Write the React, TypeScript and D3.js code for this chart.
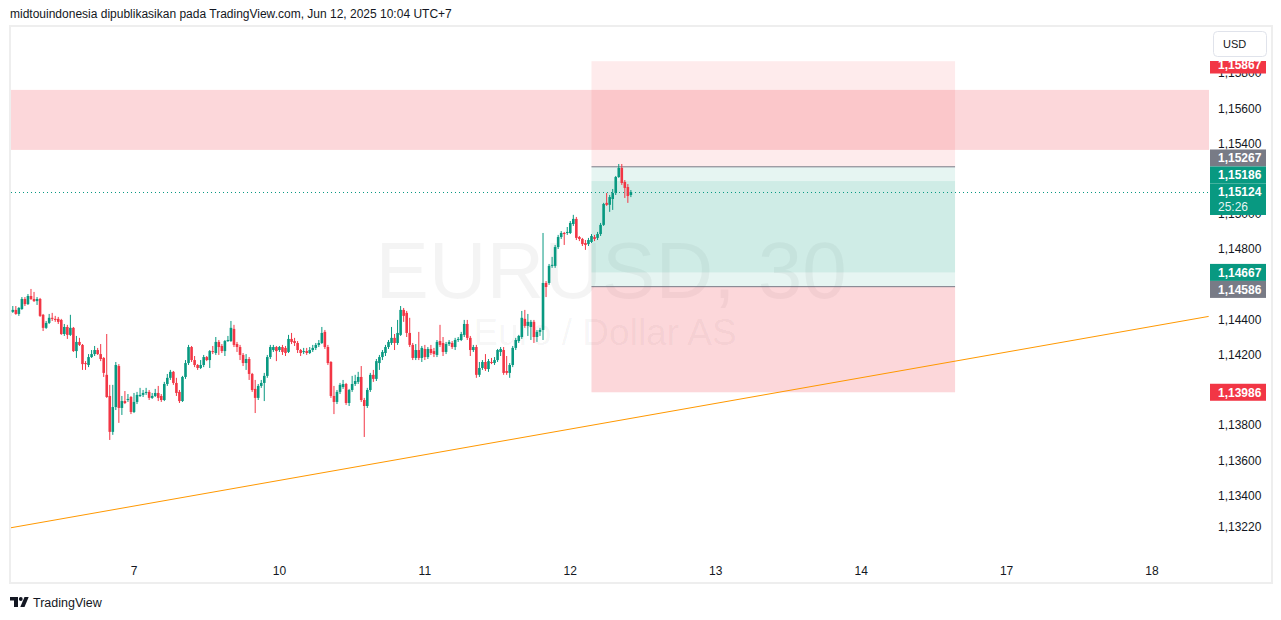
import React from 'react';
import * as d3 from 'd3';

// ---- data (EURUSD, 30m) ----
const opens = [1.14420,1.14443,1.14454,1.14431,1.14459,1.14516,1.14487,1.14533,1.14516,1.14504,
1.14516,1.14426,1.14352,1.14380,1.14409,1.14403,1.14403,1.14397,1.14317,1.14357,
1.14312,1.14352,1.14220,1.14272,1.14255,1.14152,1.14141,1.14186,1.14203,1.14226,
1.14203,1.14181,1.14085,1.13965,1.13761,1.13902,1.14135,1.13897,1.13936,1.13942,
1.13959,1.13874,1.13931,1.13965,1.13971,1.13982,1.13988,1.13954,1.13965,1.13982,
1.13965,1.13942,1.14033,1.14068,1.14102,1.14039,1.13988,1.13936,1.14073,1.14152,
1.14243,1.14169,1.14141,1.14124,1.14141,1.14186,1.14169,1.14220,1.14209,1.14272,
1.14249,1.14220,1.14277,1.14277,1.14346,1.14260,1.14243,1.14198,1.14152,1.14175,
1.14090,1.14005,1.13954,1.14022,1.14039,1.14079,1.14186,1.14226,1.14243,1.14226,
1.14243,1.14238,1.14215,1.14289,1.14277,1.14266,1.14226,1.14215,1.14220,1.14209,
1.14226,1.14238,1.14255,1.14266,1.14329,1.14243,1.14158,1.13965,1.13931,1.13988,
1.14016,1.14033,1.13925,1.13999,1.14033,1.14045,1.14073,1.13942,1.13908,1.13999,
1.14085,1.14062,1.14152,1.14186,1.14209,1.14243,1.14266,1.14295,1.14266,1.14312,
1.14454,1.14437,1.14323,1.14255,1.14181,1.14226,1.14181,1.14232,1.14186,1.14232,
1.14220,1.14198,1.14277,1.14266,1.14215,1.14260,1.14266,1.14243,1.14283,1.14283,
1.14312,1.14374,1.14295,1.14226,1.14243,1.14085,1.14124,1.14158,1.14118,1.14158,
1.14152,1.14169,1.14215,1.14226,1.14107,1.14096,1.14141,1.14238,1.14277,1.14300,
1.14403,1.14363,1.14357,1.14386,1.14300,1.14329,1.14340,1.14607,1.14607,1.14704,
1.14704,1.14811,1.14868,1.14891,1.14891,1.14891,1.14942,1.14971,1.14868,1.14857,
1.14834,1.14828,1.14840,1.14868,1.14863,1.14885,1.14937,1.15062,1.15051,1.15084,
1.15118,1.15209,1.15261,1.15181,1.15152,1.15107];

const highs = [1.14454,1.14476,1.14476,1.14470,1.14527,1.14527,1.14544,1.14573,1.14556,1.14527,
1.14522,1.14431,1.14391,1.14431,1.14437,1.14420,1.14414,1.14403,1.14374,1.14369,
1.14426,1.14357,1.14306,1.14295,1.14260,1.14163,1.14203,1.14226,1.14249,1.14238,
1.14260,1.14186,1.14317,1.14028,1.14028,1.14158,1.14146,1.13965,1.13993,1.13976,
1.13965,1.13982,1.13988,1.14011,1.13999,1.14011,1.13999,1.13982,1.14005,1.14022,
1.13976,1.14045,1.14090,1.14113,1.14107,1.14068,1.13999,1.14079,1.14169,1.14255,
1.14249,1.14192,1.14146,1.14169,1.14198,1.14192,1.14226,1.14249,1.14300,1.14283,
1.14260,1.14283,1.14306,1.14391,1.14369,1.14272,1.14255,1.14209,1.14203,1.14186,
1.14096,1.14056,1.14033,1.14056,1.14096,1.14198,1.14255,1.14255,1.14249,1.14249,
1.14255,1.14249,1.14312,1.14323,1.14295,1.14277,1.14232,1.14238,1.14238,1.14243,
1.14255,1.14266,1.14283,1.14357,1.14340,1.14255,1.14163,1.14022,1.13999,1.14039,
1.14056,1.14039,1.14005,1.14079,1.14085,1.14102,1.14135,1.13954,1.14011,1.14096,
1.14113,1.14175,1.14198,1.14226,1.14255,1.14283,1.14357,1.14317,1.14397,1.14476,
1.14465,1.14448,1.14409,1.14266,1.14260,1.14329,1.14249,1.14255,1.14243,1.14255,
1.14238,1.14283,1.14369,1.14300,1.14272,1.14283,1.14277,1.14295,1.14300,1.14329,
1.14397,1.14397,1.14306,1.14255,1.14255,1.14158,1.14169,1.14203,1.14175,1.14181,
1.14186,1.14232,1.14243,1.14243,1.14192,1.14152,1.14249,1.14295,1.14312,1.14448,
1.14454,1.14431,1.14397,1.14397,1.14340,1.14352,1.14891,1.14618,1.14715,1.14755,
1.14823,1.14880,1.14902,1.14897,1.14925,1.14959,1.14994,1.14982,1.14874,1.14863,
1.14851,1.14863,1.14885,1.14880,1.14897,1.14948,1.15062,1.15118,1.15107,1.15141,
1.15215,1.15283,1.15283,1.15192,1.15169,1.15135];

const lows = [1.14414,1.14437,1.14426,1.14420,1.14454,1.14476,1.14482,1.14510,1.14499,1.14482,
1.14414,1.14334,1.14346,1.14374,1.14391,1.14386,1.14374,1.14312,1.14306,1.14289,
1.14306,1.14215,1.14181,1.14249,1.14113,1.14113,1.14129,1.14181,1.14192,1.14198,
1.14163,1.14073,1.13954,1.13715,1.13744,1.13885,1.13812,1.13857,1.13919,1.13931,
1.13862,1.13868,1.13919,1.13959,1.13959,1.13971,1.13942,1.13948,1.13959,1.13936,
1.13931,1.13936,1.14022,1.14056,1.14028,1.13965,1.13925,1.13931,1.14062,1.14141,
1.14158,1.14129,1.14113,1.14118,1.14129,1.14163,1.14124,1.14203,1.14198,1.14198,
1.14209,1.14192,1.14272,1.14272,1.14243,1.14215,1.14169,1.14135,1.14113,1.14056,
1.13988,1.13868,1.13942,1.14011,1.13936,1.14068,1.14175,1.14215,1.14163,1.14215,
1.14198,1.14192,1.14209,1.14260,1.14249,1.14209,1.14192,1.14203,1.14198,1.14203,
1.14215,1.14226,1.14243,1.14260,1.14232,1.14141,1.13954,1.13862,1.13919,1.13976,
1.14005,1.13914,1.13908,1.13988,1.14022,1.14033,1.13931,1.13732,1.13897,1.13988,
1.14045,1.14050,1.14113,1.14169,1.14192,1.14232,1.14255,1.14226,1.14255,1.14306,
1.14386,1.14300,1.14243,1.14169,1.14169,1.14169,1.14158,1.14169,1.14175,1.14198,
1.14186,1.14186,1.14243,1.14192,1.14203,1.14249,1.14232,1.14226,1.14272,1.14277,
1.14300,1.14283,1.14192,1.14215,1.14068,1.14073,1.14113,1.14107,1.14102,1.14146,
1.14141,1.14158,1.14192,1.14085,1.14085,1.14068,1.14129,1.14226,1.14266,1.14289,
1.14352,1.14306,1.14283,1.14266,1.14272,1.14306,1.14283,1.14527,1.14596,1.14693,
1.14693,1.14800,1.14857,1.14823,1.14880,1.14885,1.14931,1.14851,1.14845,1.14817,
1.14795,1.14817,1.14834,1.14845,1.14851,1.14874,1.14931,1.15045,1.15011,1.15022,
1.15107,1.15204,1.15164,1.15090,1.15062,1.15095];

const closes = [1.14443,1.14454,1.14431,1.14465,1.14516,1.14487,1.14533,1.14516,1.14504,1.14516,
1.14420,1.14352,1.14380,1.14409,1.14403,1.14397,1.14386,1.14317,1.14357,1.14312,
1.14352,1.14220,1.14272,1.14255,1.14146,1.14146,1.14186,1.14203,1.14226,1.14203,
1.14175,1.14096,1.13959,1.13761,1.13902,1.14141,1.13897,1.13936,1.13925,1.13948,
1.13874,1.13931,1.13971,1.13971,1.13982,1.13988,1.13954,1.13965,1.13982,1.13954,
1.13942,1.14033,1.14068,1.14102,1.14039,1.13982,1.13936,1.14073,1.14152,1.14243,
1.14169,1.14141,1.14124,1.14141,1.14186,1.14169,1.14220,1.14215,1.14272,1.14243,
1.14220,1.14277,1.14283,1.14352,1.14255,1.14243,1.14198,1.14152,1.14175,1.14090,
1.13999,1.13954,1.14022,1.14039,1.14079,1.14186,1.14243,1.14243,1.14220,1.14243,
1.14215,1.14209,1.14289,1.14272,1.14266,1.14226,1.14209,1.14220,1.14209,1.14226,
1.14238,1.14255,1.14266,1.14323,1.14243,1.14152,1.13965,1.13931,1.13988,1.14028,
1.14033,1.13925,1.13999,1.14033,1.14050,1.14073,1.13942,1.13908,1.13999,1.14085,
1.14062,1.14163,1.14186,1.14215,1.14243,1.14272,1.14295,1.14266,1.14323,1.14454,
1.14420,1.14323,1.14255,1.14181,1.14226,1.14181,1.14238,1.14186,1.14232,1.14209,
1.14203,1.14272,1.14255,1.14215,1.14260,1.14272,1.14243,1.14283,1.14289,1.14317,
1.14374,1.14295,1.14226,1.14243,1.14085,1.14124,1.14158,1.14118,1.14163,1.14152,
1.14169,1.14226,1.14232,1.14096,1.14096,1.14141,1.14238,1.14283,1.14306,1.14409,
1.14363,1.14386,1.14386,1.14300,1.14329,1.14340,1.14607,1.14584,1.14704,1.14710,
1.14811,1.14868,1.14891,1.14885,1.14897,1.14948,1.14971,1.14863,1.14857,1.14828,
1.14823,1.14851,1.14874,1.14857,1.14885,1.14937,1.15056,1.15051,1.15095,1.15118,
1.15209,1.15261,1.15175,1.15147,1.15101,1.15124];

// day boundaries: label + bar index where the day starts
const dayLabels = ['7', '10', '11', '12', '13', '14', '17', '18'];
const dayStartBars = [41, 89, 137, 185, 233, 281, 329, 377];

// price-scale ticks that are visible (the others sit under the coloured labels)
const priceTicks = [1.158, 1.156, 1.154, 1.150, 1.148, 1.144, 1.142, 1.138, 1.136, 1.134, 1.1322];

// resistance zone (price range)
const zoneTop = 1.15704;
const zoneBottom = 1.15363;

// position tools (prices) and their bar span
const toolStartBar = 192;
const toolEndBar = 312;
const shortStop = 1.15867;
const longTarget = 1.15267;
const shortEntry = 1.15186;
const shortTarget = 1.14667;
const longEntry = 1.14586;
const longStop = 1.13986;

// trend line anchors
const trendBars = [0, 395.7];
const trendPrices = [1.13215, 1.14417];

// right scale labels
const labelPrices = [1.15867, 1.15267, 1.15186, 1.14667, 1.14586, 1.13986];
const labelTones = ['red', 'gray', 'green', 'green', 'gray', 'red'];
const countdown = '25:26';

const headerText = 'midtouindonesia dipublikasikan pada TradingView.com, Jun 12, 2025 10:04 UTC+7';

// ---- styles ----
const W = 1281;
const H = 620;
const FONT = '"Liberation Sans", Arial, sans-serif';
const UP = '#089981';
const DOWN = '#F23645';
const GRAY = '#787B86';
const TONE: Record<string, string> = { red: DOWN, gray: GRAY, green: UP };
const TEXT = '#131722';

const plotLeft = 11;
const plotRight = 1209;
const plotTop = 27;
const plotBottom = 556;

const fmt = (p: number) => d3.format('.5f')(p).replace('.', ',');

export default function App() {
  const x = d3.scaleLinear().domain([41, 377]).range([134, 1152]);
  const y = d3.scaleLinear().domain([1.148, 1.156]).range([249, 108.2]);

  const current = closes[closes.length - 1];
  const curY = y(current);
  const labelH = 17;
  const curTop = curY - 8.5;
  const curBottom = curY + 23;

  // label layout (avoid overlaps around the current price label)
  const items = labelPrices.map((p, i) => ({ p, tone: labelTones[i], ideal: y(p), c: y(p) }));
  const above = items.filter((d) => d.ideal < curY).sort((a, b) => b.ideal - a.ideal);
  const below = items.filter((d) => d.ideal >= curY).sort((a, b) => a.ideal - b.ideal);
  let lim = curTop;
  above.forEach((d) => {
    d.c = Math.min(d.ideal, lim - labelH / 2);
    d.c = Math.max(d.c, 65);
    lim = d.c - labelH / 2;
  });
  lim = curBottom;
  below.forEach((d) => {
    d.c = Math.max(d.ideal, lim + labelH / 2);
    lim = d.c + labelH / 2;
  });

  const bw = 2.6;
  const tx0 = x(toolStartBar);
  const tx1 = x(toolEndBar);
  const band = (a: number, b: number) => ({ y: Math.min(y(a), y(b)), h: Math.abs(y(a) - y(b)) });

  const zones = [
    { ...band(shortStop, longTarget), fill: 'rgba(242,54,69,0.1)' },
    { ...band(longTarget, longEntry), fill: 'rgba(8,153,129,0.1)' },
    { ...band(shortEntry, shortTarget), fill: 'rgba(8,153,129,0.1)' },
    { ...band(longEntry, longStop), fill: 'rgba(242,54,69,0.2)' },
  ];

  return (
    <div style={{ position: 'absolute', left: 0, top: 0, width: W, height: H, background: '#fff' }}>
      <svg width={W} height={H} style={{ display: 'block', fontFamily: FONT }}>
        <defs>
          <clipPath id="plot">
            <rect x={plotLeft} y={plotTop} width={plotRight - plotLeft} height={plotBottom - plotTop} />
          </clipPath>
          <clipPath id="scale">
            <rect x={1210} y={61} width={60} height={495} />
          </clipPath>
        </defs>
        <rect x={0} y={0} width={W} height={H} fill="#fff" />
        <text x={10} y={18} fontSize={12} fill={TEXT}>{headerText}</text>
        <rect x={10} y={26} width={1262} height={557} fill="#fff" stroke="#EEEEEE" strokeWidth={2} />

        <g clipPath="url(#plot)">
          {/* watermark */}
          <text x={611} y={298} fontSize={80} textAnchor="middle" fill="rgba(0,0,0,0.045)">EURUSD, 30</text>
          <text x={605} y={345} fontSize={37} textAnchor="middle" fill="rgba(0,0,0,0.045)">Euro / Dollar AS</text>

          {/* resistance zone */}
          <rect x={plotLeft} y={y(zoneTop)} width={plotRight - plotLeft} height={y(zoneBottom) - y(zoneTop)} fill="rgba(242,54,69,0.2)" />

          {/* position tools */}
          {zones.map((z, i) => (
            <rect key={i} x={tx0} y={z.y} width={tx1 - tx0} height={z.h} fill={z.fill} />
          ))}
          <line x1={tx0} x2={tx1} y1={y(longTarget)} y2={y(longTarget)} stroke={GRAY} strokeWidth={1} />
          <line x1={tx0} x2={tx1} y1={y(longEntry)} y2={y(longEntry)} stroke={GRAY} strokeWidth={1} />

          {/* trend line */}
          <line x1={x(trendBars[0])} y1={y(trendPrices[0])} x2={x(trendBars[1])} y2={y(trendPrices[1])} stroke="#FF9800" strokeWidth={1} />

          {/* current price dotted line */}
          <line x1={plotLeft} x2={plotRight} y1={Math.round(curY) + 0.5} y2={Math.round(curY) + 0.5} stroke={UP} strokeWidth={1} strokeDasharray="1 3" />

          {/* candles */}
          {closes.map((c, i) => {
            const o = opens[i];
            const col = c >= o ? UP : DOWN;
            const cx = x(i);
            const yt = y(Math.max(o, c));
            const yb = y(Math.min(o, c));
            return (
              <g key={i}>
                <line x1={cx} x2={cx} y1={y(highs[i])} y2={y(lows[i])} stroke={col} strokeWidth={1} />
                <rect x={cx - bw / 2} y={yt} width={bw} height={Math.max(1, yb - yt)} fill={col} />
              </g>
            );
          })}
        </g>

        {/* time axis */}
        {dayLabels.map((d, i) => (
          <text key={d} x={x(dayStartBars[i])} y={575} fontSize={12} textAnchor="middle" fill={TEXT}>{d}</text>
        ))}

        {/* price scale */}
        <g clipPath="url(#scale)">
          {priceTicks.map((p) => (
            <text key={p} x={1218} y={y(p)} dy="0.36em" fontSize={12} fill={TEXT}>{fmt(p)}</text>
          ))}
          {items.map((d, i) => (
            <g key={i}>
              <rect x={1210} y={d.c - labelH / 2} width={56} height={labelH} fill={TONE[d.tone]} />
              <text x={1218} y={d.c} dy="0.36em" fontSize={12} fontWeight="bold" fill="#fff">{fmt(d.p)}</text>
            </g>
          ))}
          <rect x={1210} y={curTop} width={56} height={curBottom - curTop} fill={UP} />
          <text x={1218} y={curY} dy="0.36em" fontSize={12} fontWeight="bold" fill="#fff">{fmt(current)}</text>
          <text x={1218} y={curY + 15} dy="0.36em" fontSize={12} fill="rgba(255,255,255,0.92)">{countdown}</text>
        </g>

        {/* currency button */}
        <rect x={1213.5} y={31.5} width={53} height={25} rx={4} fill="#fff" stroke="#E0E3EB" />
        <text x={1223} y={44} dy="0.36em" fontSize={11} fill={TEXT}>USD</text>

        {/* footer logo */}
        <path d="M10 597 h8 v10 h-4 v-6.5 h-4 z" fill={TEXT} />
        <circle cx={20.8} cy={599} r={1.9} fill={TEXT} />
        <path d="M24.5 597 h4.2 l-4.2 10 h-4.2 z" fill={TEXT} />
        <text x={33} y={606.5} fontSize={12.5} fill={TEXT}>TradingView</text>
      </svg>
    </div>
  );
}
